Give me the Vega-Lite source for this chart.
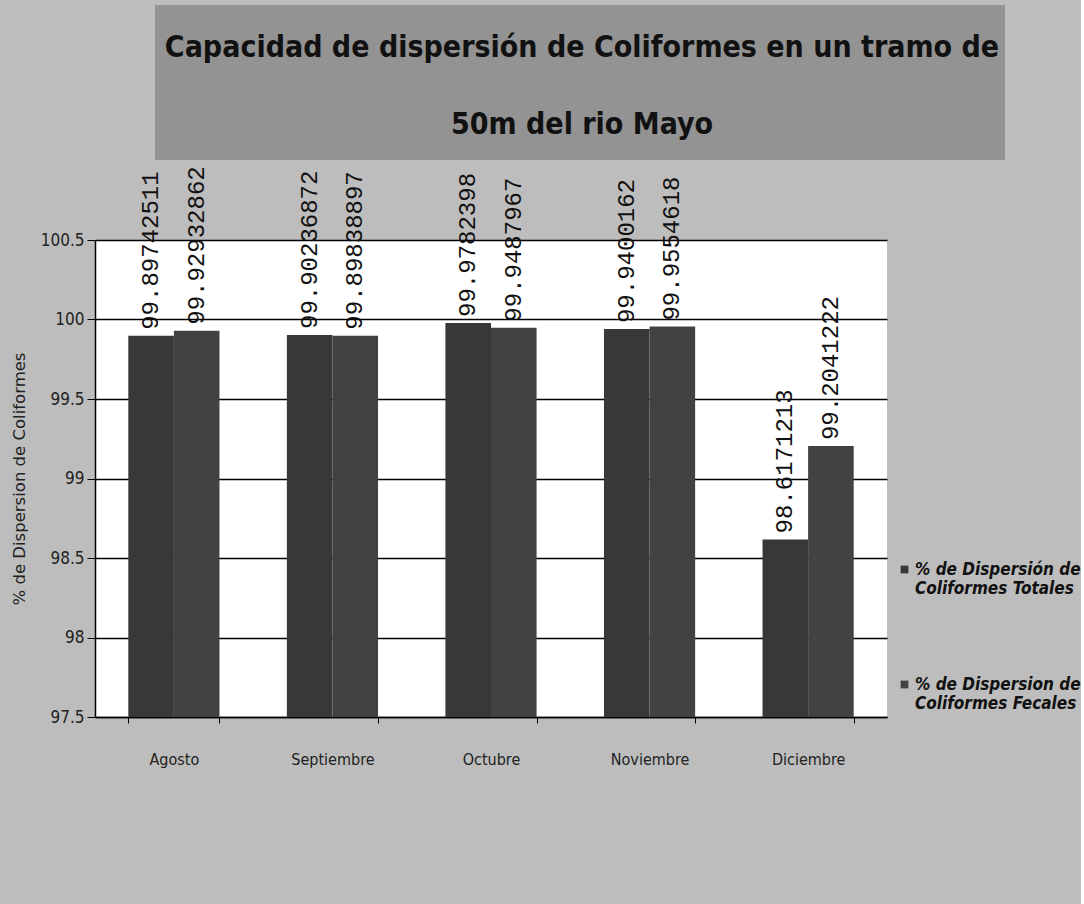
{
  "$schema": "https://vega.github.io/schema/vega-lite/v6.json",
  "background": "#bdbdbd",
  "padding": {"left": 11, "top": 5, "right": 0, "bottom": 137},
  "spacing": 6,
  "config": {
    "view": {"stroke": null},
    "concat": {"spacing": 0}
  },
  "vconcat": [
    {
      "hconcat": [
        {
          "width": 60,
          "height": 155,
          "data": {"values": [{"t": ""}]},
          "mark": {"type": "text"},
          "encoding": {"text": {"field": "t"}}
        },
        {
          "width": 850,
          "height": 155,
          "view": {"fill": "#939393", "stroke": null},
          "data": {"values": [{"t": "Capacidad de dispersión de Coliformes  en un tramo de\n50m del rio Mayo"}]},
          "mark": {
            "type": "text",
            "lineBreak": "\n",
            "font": "DejaVu Sans Condensed, Liberation Sans Narrow, sans-serif",
            "fontWeight": "bold",
            "fontSize": 30,
            "lineHeight": 77,
            "align": "center",
            "baseline": "middle",
            "fill": "#111111",
            "dx": 2,
            "dy": -35
          },
          "encoding": {"text": {"field": "t"}}
        }
      ],
      "spacing": 0
    },
    {
      "width": 792,
      "height": 477,
      "view": {"fill": "#ffffff", "stroke": null},
      "data": {
        "values": [
          {"mes": "Agosto", "serie": "% de Dispersión de Coliformes Totales", "valor": 99.89742511},
          {"mes": "Agosto", "serie": "% de Dispersion de Coliformes Fecales", "valor": 99.92932862},
          {"mes": "Septiembre", "serie": "% de Dispersión de Coliformes Totales", "valor": 99.90236872},
          {"mes": "Septiembre", "serie": "% de Dispersion de Coliformes Fecales", "valor": 99.89838897},
          {"mes": "Octubre", "serie": "% de Dispersión de Coliformes Totales", "valor": 99.9782398},
          {"mes": "Octubre", "serie": "% de Dispersion de Coliformes Fecales", "valor": 99.9487967},
          {"mes": "Noviembre", "serie": "% de Dispersión de Coliformes Totales", "valor": 99.9400162},
          {"mes": "Noviembre", "serie": "% de Dispersion de Coliformes Fecales", "valor": 99.9554618},
          {"mes": "Diciembre", "serie": "% de Dispersión de Coliformes Totales", "valor": 98.6171213},
          {"mes": "Diciembre", "serie": "% de Dispersion de Coliformes Fecales", "valor": 99.2041222}
        ]
      },
      "encoding": {
        "x": {
          "field": "mes",
          "type": "nominal",
          "sort": ["Agosto", "Septiembre", "Octubre", "Noviembre", "Diciembre"],
          "scale": {"paddingInner": 0.425, "paddingOuter": 0.21},
          "axis": {
            "title": null,
            "labelAngle": 0,
            "labelFont": "DejaVu Sans Condensed, Liberation Sans Narrow, sans-serif",
            "labelFontSize": 16,
            "labelColor": "#222222",
            "labelPadding": 28,
            "tickBand": "extent",
            "tickSize": 6,
            "tickColor": "#000000",
            "domainColor": "#000000",
            "domainWidth": 1.5
          }
        },
        "xOffset": {
          "field": "serie",
          "type": "nominal",
          "sort": ["% de Dispersión de Coliformes Totales", "% de Dispersion de Coliformes Fecales"],
          "scale": {"paddingInner": 0, "paddingOuter": 0}
        },
        "y": {
          "field": "valor",
          "type": "quantitative",
          "scale": {"domain": [97.5, 100.5], "zero": false, "nice": false},
          "axis": {
            "title": "% de Dispersion de Coliformes",
            "titleFont": "DejaVu Sans",
            "titleFontSize": 16.5,
            "titleFontWeight": "normal",
            "titleColor": "#222222",
            "titlePadding": 13,
            "values": [97.5, 98, 98.5, 99, 99.5, 100, 100.5],
            "format": ".1~f",
            "labelFont": "DejaVu Sans Condensed, Liberation Sans Narrow, sans-serif",
            "labelFontSize": 17,
            "labelColor": "#222222",
            "labelPadding": 3,
            "tickSize": 8,
            "tickColor": "#000000",
            "domainColor": "#000000",
            "domainWidth": 1.5,
            "grid": true,
            "gridColor": "#000000",
            "gridWidth": 1.5
          }
        }
      },
      "layer": [
        {
          "mark": {"type": "bar", "clip": true},
          "encoding": {
            "color": {
              "field": "serie",
              "type": "nominal",
              "sort": ["% de Dispersión de Coliformes Totales", "% de Dispersion de Coliformes Fecales"],
              "scale": {"range": ["#383838", "#424242"]},
              "legend": {
                "title": null,
                "orient": "none",
                "legendX": 801,
                "legendY": 556,
                "symbolType": "square",
                "symbolSize": 60,
                "labelFont": "DejaVu Sans Condensed, Liberation Sans Narrow, sans-serif",
                "labelFontStyle": "italic",
                "labelFontWeight": "bold",
                "labelFontSize": 17,
                "labelColor": "#111111",
                "labelLimit": 300,
                "labelOffset": 2,
                "rowPadding": 78,
                "labelExpr": "datum.label == '% de Dispersión de Coliformes Totales' ? ['% de Dispersión de', 'Coliformes Totales'] : ['% de Dispersion de', 'Coliformes Fecales']"
              }
            }
          }
        },
        {
          "mark": {
            "type": "text",
            "angle": 270,
            "align": "left",
            "baseline": "middle",
            "dx": 6,
            "font": "Liberation Mono",
            "fontSize": 24,
            "color": "#111111"
          },
          "encoding": {
            "text": {"field": "valor", "type": "nominal"}
          }
        }
      ]
    }
  ]
}
